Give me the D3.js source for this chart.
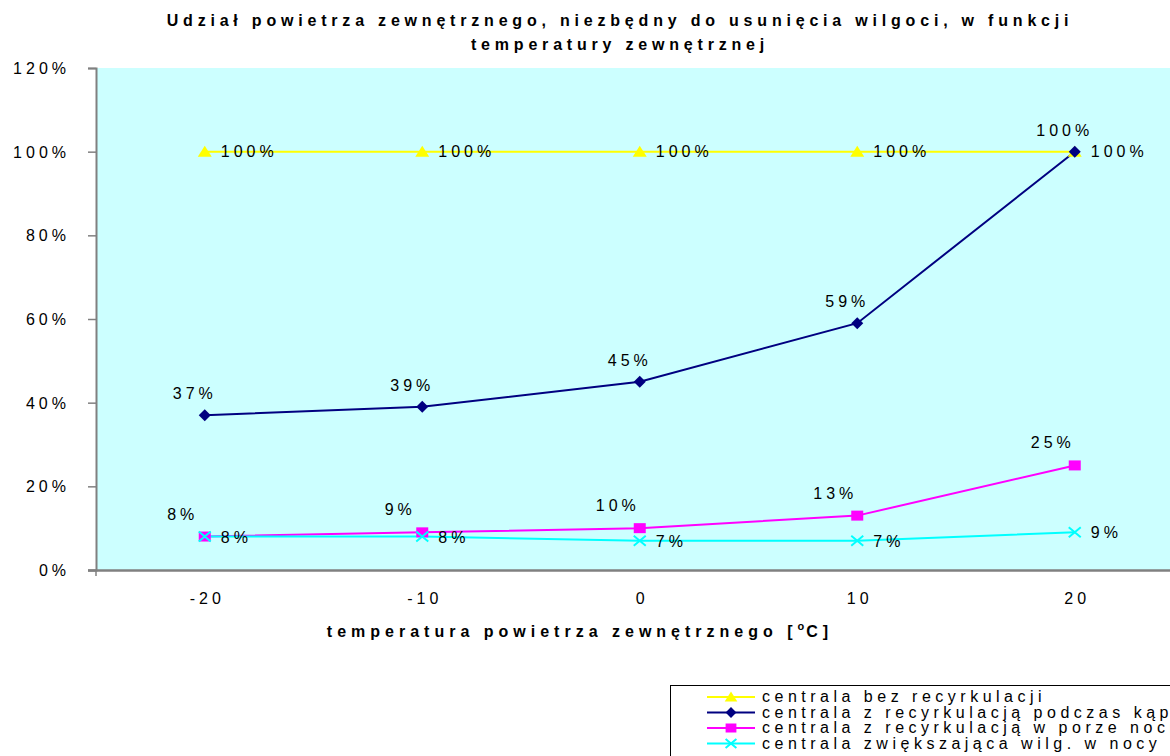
<!DOCTYPE html>
<html><head><meta charset="utf-8">
<script src="https://cdn.jsdelivr.net/npm/d3@7"></script>
<style>
body{margin:0;background:#fff;overflow:hidden}
text{font-family:"Liberation Sans",Arial,sans-serif;fill:#000}
</style></head><body>
<svg id="c" width="1170" height="756"></svg>
<script>
const categories = [-20, -10, 0, 10, 20];
const yTicks = [0, 20, 40, 60, 80, 100, 120];
const seriesNames = ["centrala bez recyrkulacji", "centrala z recyrkulacją podczas kąpieli", "centrala z recyrkulacją w porze nocnej", "centrala zwiększająca wilg. w nocy"];
const sBez = [100, 100, 100, 100, 100];
const sKapiel = [37, 39, 45, 59, 100];
const sNoc = [8, 9, 10, 13, 25];
const sWilg = [8, 8, 7, 7, 9];
const titleLines = ["Udział powietrza zewnętrznego, niezbędny do usunięcia wilgoci, w funkcji", "temperatury zewnętrznej"];
const xTitle = "temperatura powietrza zewnętrznego [°C]";

const series = [
  {name: seriesNames[0], values: sBez, color: "#FFFF00", marker: "tri", lab: {dx: 16, dy: 5, anchor: "start"}},
  {name: seriesNames[1], values: sKapiel, color: "#000080", marker: "dia", lab: {dx: -10, dy: -16, anchor: "middle"}},
  {name: seriesNames[2], values: sNoc, color: "#FF00FF", marker: "sq", lab: {dx: -22, dy: -17, anchor: "middle"}},
  {name: seriesNames[3], values: sWilg, color: "#00FFFF", marker: "x", lab: {dx: 16, dy: 6, anchor: "start"}}
];

const svg = d3.select("#c");
const L = 96, T = 68, B = 570, step = 217.5;
const x = d3.scalePoint().domain(categories).range([L + step/2, L + step*4.5]);
const y = d3.scaleLinear().domain([0, 120]).range([B, T]);

// plot background
svg.append("rect").attr("x", L).attr("y", T).attr("width", step*5).attr("height", B - T).attr("fill", "#CCFFFF");

// title
const tt = svg.append("text").attr("text-anchor", "middle").style("font-weight", "bold").style("font-size", "16px").style("letter-spacing", "4.8px");
titleLines.forEach((t, i) => tt.append("tspan").attr("x", 620).attr("y", 26 + i*24).text(t));

// y axis
const ya = svg.append("g").attr("transform", `translate(${L},0)`)
  .call(d3.axisLeft(y).tickValues(yTicks).tickSize(8).tickPadding(22).tickFormat(d => d + "%"));
ya.select(".domain").attr("stroke", "#808080").attr("stroke-width", 2);
ya.selectAll(".tick line").attr("stroke", "#808080").attr("stroke-width", 1.5);
ya.selectAll(".tick text").style("font-size", "16px").style("letter-spacing", "4px").attr("fill", "#000").attr("dy", "0.35em").attr("dx", 4);

// x axis
const xa = svg.append("g").attr("transform", `translate(0,${B})`)
  .call(d3.axisBottom(x).tickSize(0).tickPadding(23));
xa.select(".domain").attr("d", `M${L - 8},0.5H${L + step*5}`).attr("stroke", "#808080").attr("stroke-width", 2.5);
xa.selectAll(".tick text").style("font-size", "16px").style("letter-spacing", "4px").attr("fill", "#000").attr("dx", 2);
svg.append("line").attr("x1", L).attr("x2", L).attr("y1", B).attr("y2", B + 6).attr("stroke", "#808080").attr("stroke-width", 1.5);

// x title
const xt = svg.append("text").attr("x", 580).attr("y", 637).attr("text-anchor", "middle").style("font-weight", "bold").style("font-size", "16px").style("letter-spacing", "5px");
xt.append("tspan").text("temperatura powietrza zewnętrznego [");
xt.append("tspan").text("o").attr("dy", -7).style("font-size", "11px").style("letter-spacing", "2px");
xt.append("tspan").text("C]").attr("dy", 7);

function marker(g, type, color, cx, cy, s) {
  s = s || 1;
  if (type === "tri") g.append("path").attr("d", `M${cx},${cy - 6*s}L${cx + 7*s},${cy + 5*s}L${cx - 7*s},${cy + 5*s}Z`).attr("fill", color);
  else if (type === "dia") g.append("path").attr("d", `M${cx},${cy - 6*s}L${cx + 6*s},${cy}L${cx},${cy + 6*s}L${cx - 6*s},${cy}Z`).attr("fill", color);
  else if (type === "sq") g.append("rect").attr("x", cx - 6*s).attr("y", cy - 5*s).attr("width", 12*s).attr("height", 10*s).attr("fill", color);
  else if (type === "x") g.append("path").attr("d", `M${cx - 6*s},${cy - 5*s}L${cx + 6*s},${cy + 5*s}M${cx - 6*s},${cy + 5*s}L${cx + 6*s},${cy - 5*s}`).attr("stroke", color).attr("stroke-width", 2).attr("fill", "none");
}

const line = d3.line().x((d, i) => x(categories[i])).y(d => y(d));
series.forEach(s => {
  const g = svg.append("g");
  g.append("path").attr("d", line(s.values)).attr("fill", "none").attr("stroke", s.color).attr("stroke-width", 2);
});
series.forEach(s => {
  const g = svg.append("g");
  s.values.forEach((v, i) => marker(g, s.marker, s.color, x(categories[i]), y(v)));
});
series.forEach(s => {
  const g = svg.append("g");
  s.values.forEach((v, i) => {
    g.append("text").attr("x", x(categories[i]) + s.lab.dx).attr("y", y(v) + s.lab.dy)
      .attr("text-anchor", s.lab.anchor).style("font-size", "16px").style("letter-spacing", "4px").text(v + "%");
  });
});

// legend
const lg = svg.append("g");
lg.append("rect").attr("x", 670.5).attr("y", 685.5).attr("width", 600).attr("height", 100).attr("fill", "#fff").attr("stroke", "#000").attr("stroke-width", 1);
series.forEach((s, i) => {
  const yy = 697 + i*15.5;
  lg.append("line").attr("x1", 707).attr("x2", 755).attr("y1", yy).attr("y2", yy).attr("stroke", s.color).attr("stroke-width", 2);
  marker(lg, s.marker, s.color, 731, yy, 0.9);
  lg.append("text").attr("x", 762).attr("y", yy + 5).style("font-size", "16px").style("letter-spacing", "4.5px").text(s.name);
});
</script>
</body></html>
